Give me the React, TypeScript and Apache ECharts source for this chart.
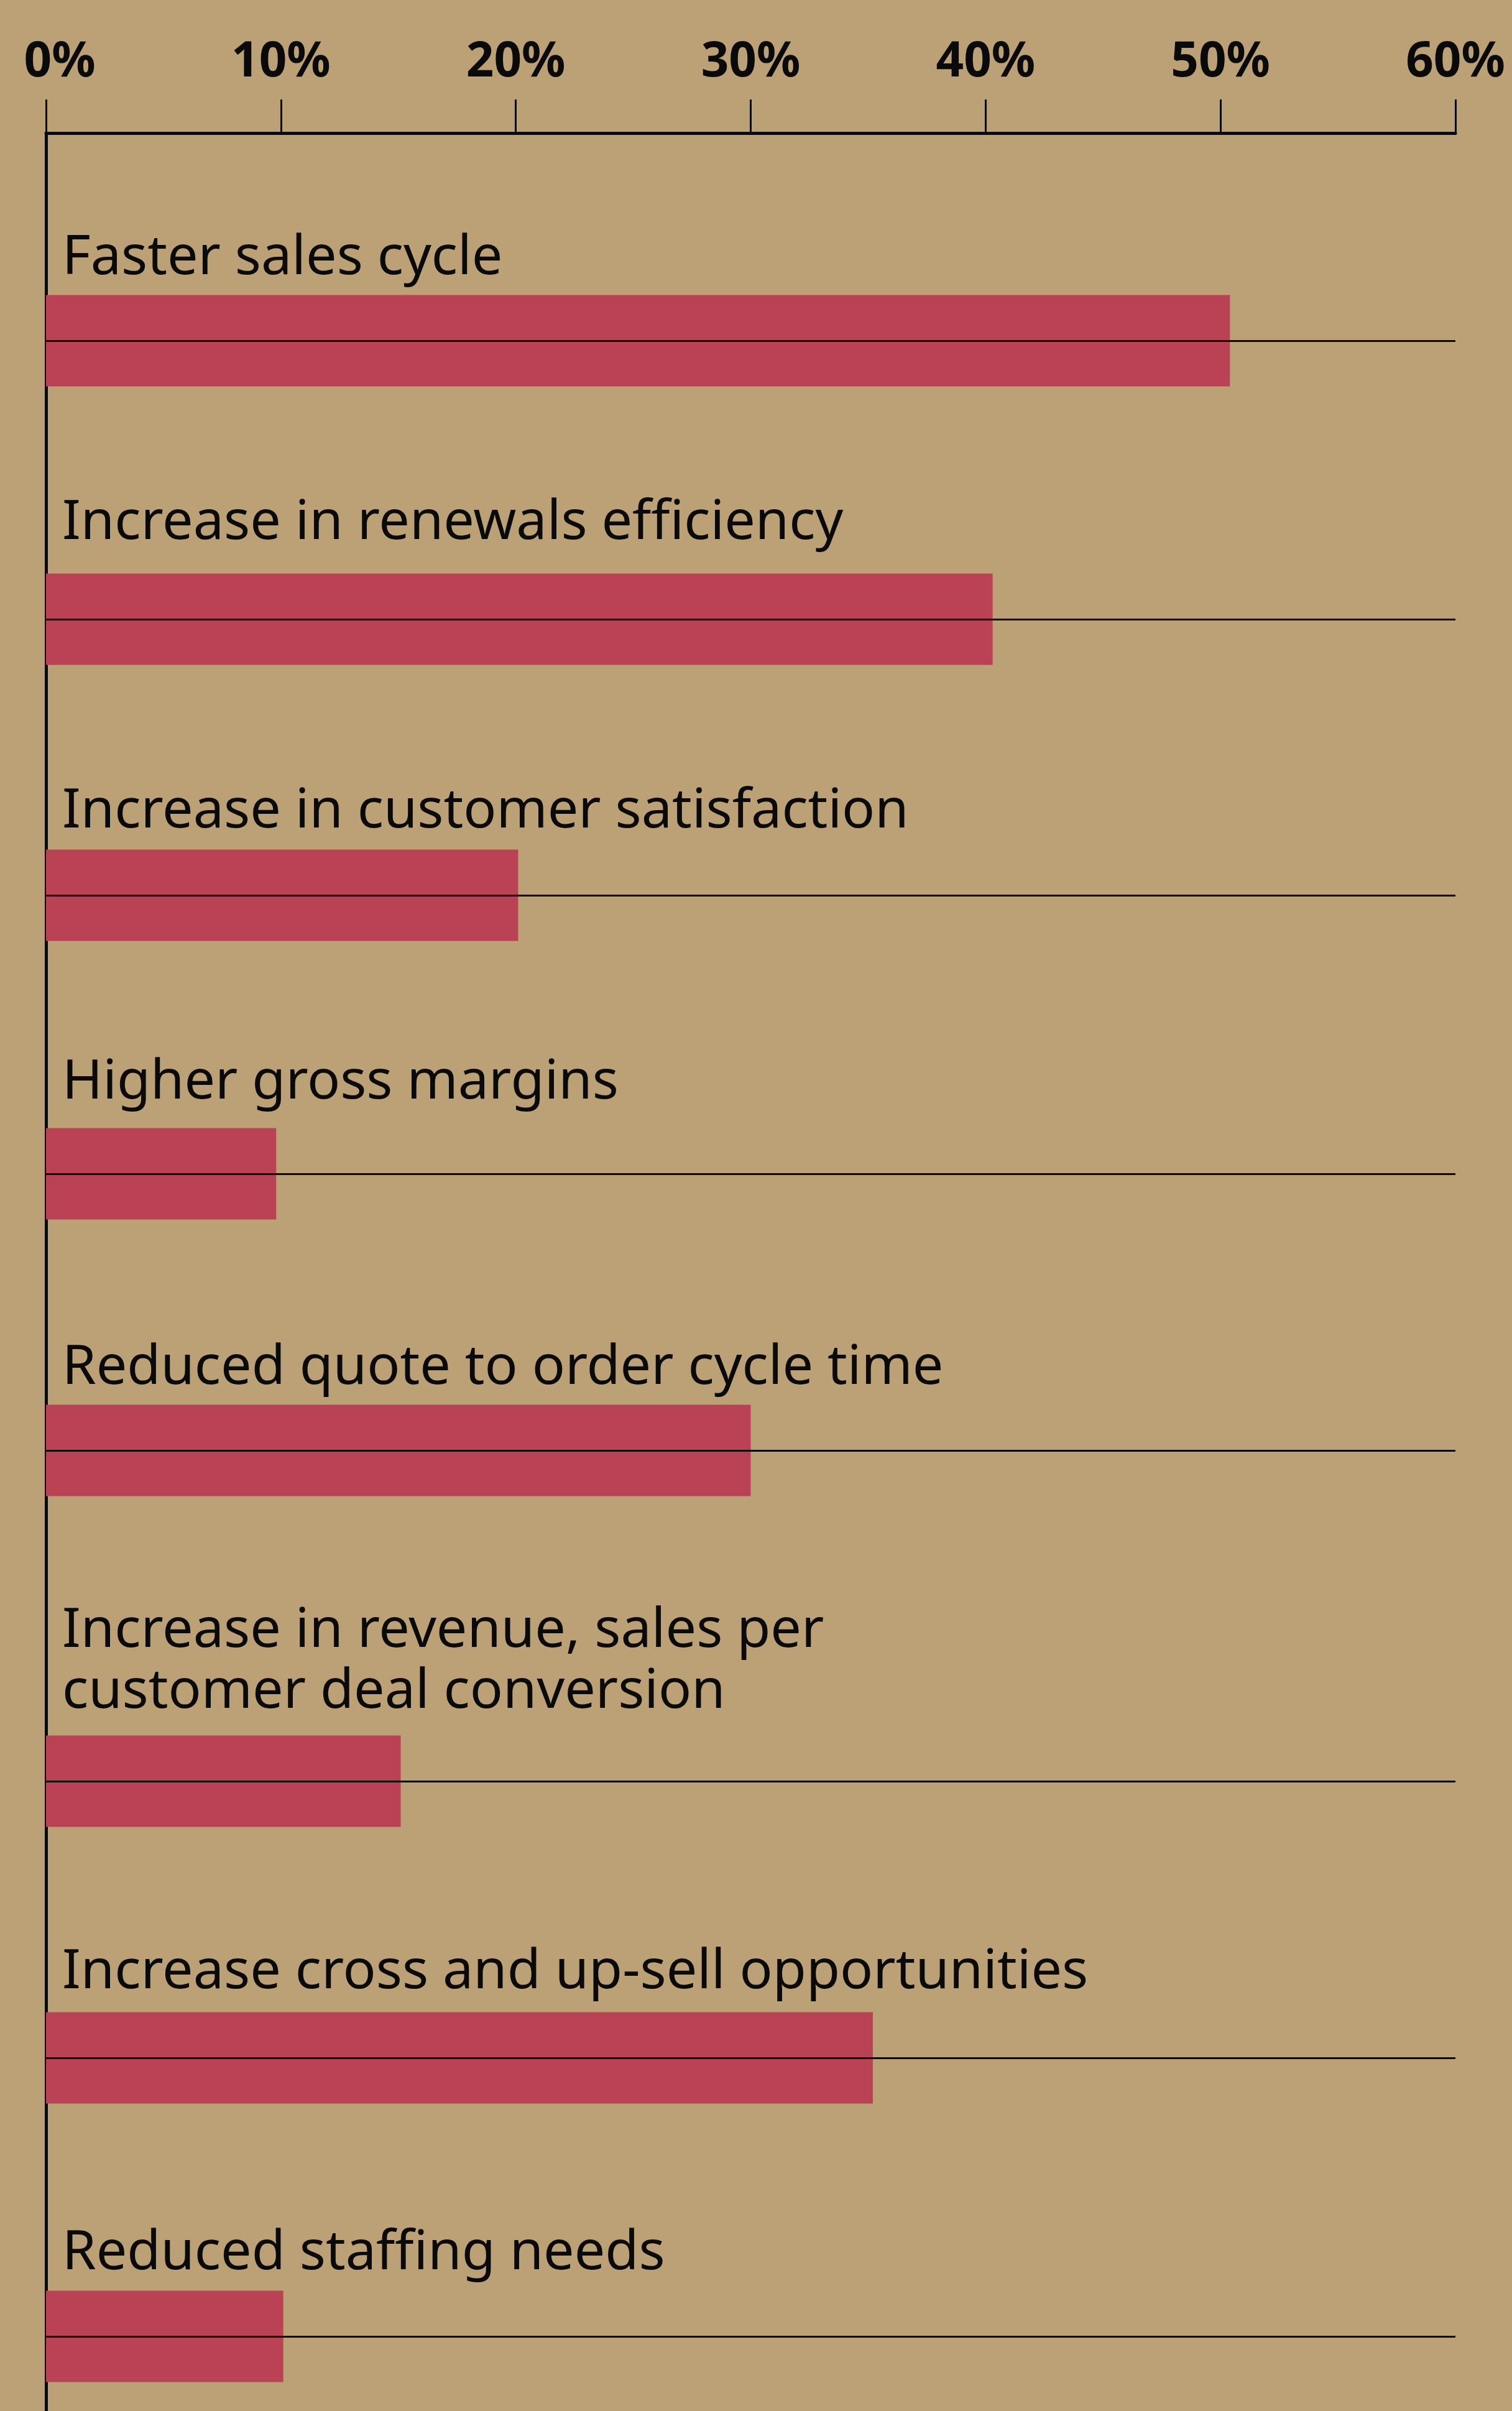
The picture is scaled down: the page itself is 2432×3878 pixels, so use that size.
import React, { useEffect, useRef } from "react";
import * as echarts from "echarts";

// ---- data ----
const categories: string[] = [
  "Faster sales cycle",
  "Increase in renewals efficiency",
  "Increase in customer satisfaction",
  "Higher gross margins",
  "Reduced quote to order cycle time",
  "Increase in revenue, sales per\ncustomer deal conversion",
  "Increase cross and up-sell opportunities",
  "Reduced staffing needs",
];
const values: number[] = [50.4, 40.3, 20.1, 9.8, 30.0, 15.1, 35.2, 10.1];
const tickValues: number[] = [0, 10, 20, 30, 40, 50, 60];
const tickLabels: string[] = ["0%", "10%", "20%", "30%", "40%", "50%", "60%"];

// ---- layout (panel positions, not data) ----
const W = 2432;
const H = 3878;
const LEFT = 74;
const RIGHT = W - 2341;
const AXIS_TOP = 214;
const BAR_H = 147;
const rowCenters: number[] = [548, 996, 1440, 1888, 2333, 2865, 3310, 3758];
// gap between the label's last baseline and the bar's top edge
const labelGaps: number[] = [33, 55, 35, 47, 33, 44, 38, 34];

const BG = "#BDA176";
const BAR = "#BA4255";
const INK = "#0a0a0a";
const FONT = "Noto Sans";
const LABEL_FS = 88;
const LABEL_LH = 98;
const AX_FS = 78;

export default function App() {
  const ref = useRef<HTMLDivElement>(null);

  useEffect(() => {
    if (!ref.current) return;
    const chart = echarts.init(ref.current, undefined, { renderer: "svg" });

    const grids: any[] = [
      { left: LEFT, right: RIGHT, top: AXIS_TOP, bottom: 0, containLabel: false },
    ];
    const xAxes: any[] = [
      {
        gridIndex: 0,
        type: "value",
        position: "top",
        min: tickValues[0],
        max: tickValues[tickValues.length - 1],
        interval: 10,
        axisLine: { show: true, onZero: false, lineStyle: { color: INK, width: 5 } },
        axisTick: { show: true, inside: false, length: 54, lineStyle: { color: INK, width: 3 } },
        splitLine: { show: false },
        axisLabel: {
          margin: 82,
          color: INK,
          fontFamily: FONT,
          fontSize: AX_FS,
          fontWeight: "bold",
          formatter: (v: number) => {
            const i = tickValues.indexOf(v);
            const t = i >= 0 ? tickLabels[i] : v + "%";
            return i === 0 ? "{first|" + t + "}" : t;
          },
          rich: {
            first: {
              fontFamily: FONT,
              fontSize: AX_FS,
              fontWeight: "bold",
              color: INK,
              padding: [0, 0, 0, 44],
            },
          },
        },
      },
    ];
    const yAxes: any[] = [
      {
        gridIndex: 0,
        type: "value",
        axisLine: { show: true, onZero: false, lineStyle: { color: INK, width: 5 } },
        axisTick: { show: false },
        axisLabel: { show: false },
        splitLine: { show: false },
      },
    ];
    const series: any[] = [];

    categories.forEach((cat, i) => {
      const gi = i + 1;
      grids.push({
        left: LEFT,
        right: RIGHT,
        top: rowCenters[i] - BAR_H / 2,
        height: BAR_H,
        containLabel: false,
      });
      xAxes.push({
        gridIndex: gi,
        type: "value",
        min: tickValues[0],
        max: tickValues[tickValues.length - 1],
        show: false,
      });
      yAxes.push({
        gridIndex: gi,
        type: "category",
        data: [cat],
        show: false,
      });
      const nLines = cat.split("\n").length;
      // middle-aligned block; baseline sits ~0.388em below the line centre
      const offY = -labelGaps[i] - 0.388 * LABEL_FS - ((nLines - 1) * LABEL_LH) / 2;
      series.push({
        type: "bar",
        name: cat,
        xAxisIndex: gi,
        yAxisIndex: gi,
        data: [values[i]],
        barWidth: BAR_H,
        itemStyle: { color: BAR },
        z: 2,
        label: {
          show: true,
          formatter: "{b}",
          position: [26, offY],
          align: "left",
          verticalAlign: "middle",
          color: INK,
          fontFamily: FONT,
          fontSize: LABEL_FS,
          lineHeight: LABEL_LH,
        },
        markLine: {
          silent: true,
          symbol: "none",
          animation: false,
          label: { show: false },
          lineStyle: { color: INK, width: 3, type: "solid" },
          data: [{ yAxis: cat }],
        },
      });
    });

    chart.setOption({
      animation: false,
      backgroundColor: BG,
      grid: grids,
      xAxis: xAxes,
      yAxis: yAxes,
      series,
    });

    return () => chart.dispose();
  }, []);

  return (
    <div
      ref={ref}
      style={{ position: "absolute", left: 0, top: 0, width: W, height: H, background: BG }}
    />
  );
}
